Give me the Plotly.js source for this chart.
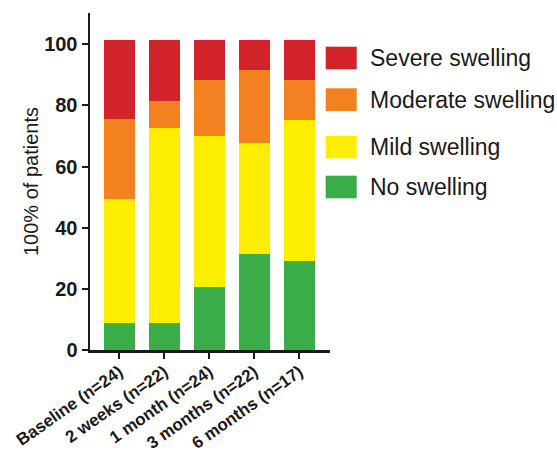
<!DOCTYPE html>
<html>
<head>
<meta charset="utf-8">
<script src="https://cdn.plot.ly/plotly-3.0.1.min.js"></script>
<style>
  html, body { margin: 0; padding: 0; background: #ffffff; }
  #chart { width: 557px; height: 450px; }
</style>
</head>
<body>
<div id="chart"></div>
<script>
// ---- data (percent of patients) ----
const categories = ["Baseline (n=24)", "2 weeks (n=22)", "1 month (n=24)", "3 months (n=22)", "6 months (n=17)"];
const noSwelling       = [8.9, 8.9, 20.6, 31.4, 29.2];
const mildSwelling     = [40.5, 63.6, 49.5, 36.3, 46.1];
const moderateSwelling = [26.1, 8.9, 18.3, 23.8, 13.1];
const severeSwelling   = [25.9, 20.0, 13.0, 9.9, 13.0];
const seriesNames = ["No swelling", "Mild swelling", "Moderate swelling", "Severe swelling"];
const yTickValues = [0, 20, 40, 60, 80, 100];

// ---- styling ----
const colors = ["#3bac4a", "#fdee00", "#f3811f", "#d3232a"];
const FONT = "'Liberation Sans', Arial, Helvetica, sans-serif";

const W = 557, H = 450;
const M = { l: 90, r: 227, t: 13, b: 100 };
const plotW = W - M.l - M.r, plotH = H - M.t - M.b;
const px2x = p => (p - M.l) / plotW;
const px2y = p => (H - M.b - p) / plotH;

const seriesValues = [noSwelling, mildSwelling, moderateSwelling, severeSwelling];
const traces = seriesValues.map((vals, i) => ({
  type: "bar",
  name: seriesNames[i],
  x: categories,
  y: vals,
  marker: { color: colors[i], line: { width: 0 } },
  showlegend: false,
  hoverinfo: "x+y+name"
}));

// manual legend (top to bottom: severe, moderate, mild, none)
const legendRows = [
  { idx: 3, top: 46.7, bot: 69.3 },
  { idx: 2, top: 88.3, bot: 111 },
  { idx: 1, top: 136, bot: 158.3 },
  { idx: 0, top: 175.7, bot: 198.3 }
];
const shapes = [];
const annotations = [];
legendRows.forEach(r => {
  shapes.push({
    type: "rect", xref: "paper", yref: "paper",
    x0: px2x(325.7), x1: px2x(356.7), y0: px2y(r.bot), y1: px2y(r.top),
    fillcolor: colors[r.idx], line: { width: 0 }
  });
  annotations.push({
    xref: "paper", yref: "paper", x: px2x(368), y: px2y((r.top + r.bot) / 2),
    xanchor: "left", yanchor: "middle", showarrow: false,
    text: seriesNames[r.idx],
    font: { family: FONT, size: 23, color: "#1a1a1a" }
  });
});

const layout = {
  width: W, height: H,
  margin: M,
  paper_bgcolor: "#ffffff",
  plot_bgcolor: "#ffffff",
  barmode: "stack",
  bargap: 0.3,
  showlegend: false,
  xaxis: {
    type: "category",
    range: [-0.65, 4.68],
    showline: true, linecolor: "#1a1a1a", linewidth: 2.5,
    ticks: "outside", ticklen: 6, tickwidth: 2, tickcolor: "#1a1a1a",
    tickangle: -35,
    ticklabelstandoff: -3,
    tickfont: { family: FONT, size: 17, color: "#1a1a1a", weight: "bold" },
    showgrid: false, zeroline: false, fixedrange: true
  },
  yaxis: {
    range: [0, 110.2],
    tickvals: yTickValues,
    ticktext: yTickValues.map(String),
    showline: true, linecolor: "#1a1a1a", linewidth: 2.5,
    ticks: "outside", ticklen: 6, tickwidth: 2, tickcolor: "#1a1a1a",
    tickfont: { family: FONT, size: 20, color: "#1a1a1a", weight: "bold" },
    title: { text: "100% of patients", font: { family: FONT, size: 20, color: "#1a1a1a" }, standoff: 0 },
    showgrid: false, zeroline: false, fixedrange: true
  },
  shapes: shapes,
  annotations: annotations
};

Plotly.newPlot("chart", traces, layout, { displayModeBar: false, staticPlot: true });
</script>
</body>
</html>
